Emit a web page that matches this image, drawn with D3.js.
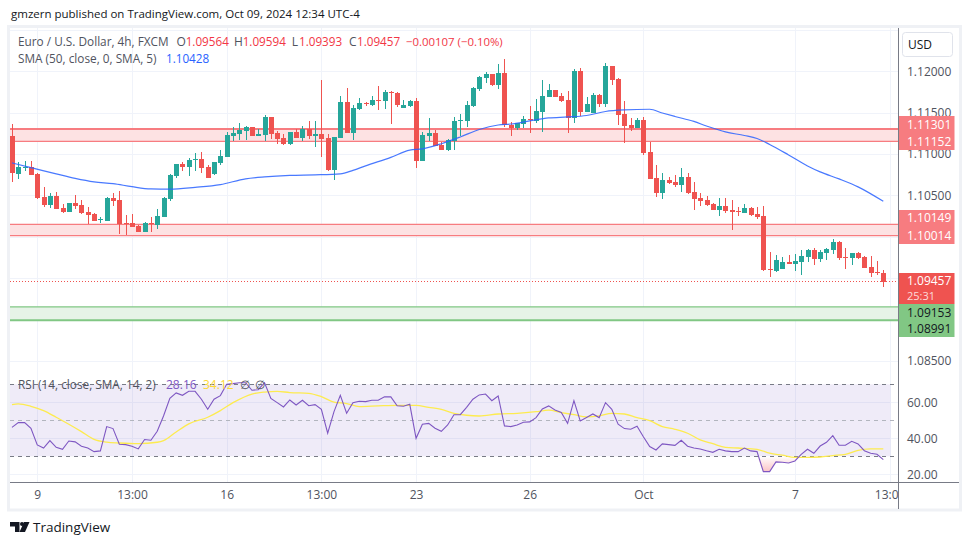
<!DOCTYPE html>
<html>
<head>
<meta charset="utf-8">
<script src="https://cdn.jsdelivr.net/npm/d3@7"></script>
<style>
  html, body { margin: 0; padding: 0; background: #fff; }
  svg { display: block; }
  text { font-family: "Open Sans", "Noto Sans", sans-serif; font-size: 12px; }
</style>
</head>
<body>
<svg width="970" height="545"></svg>
<script>
// candles, 4h EURUSD
const open = [
  1.11218,1.10760,1.10832,1.10844,1.10760,1.10482,1.10385,1.10494,1.10349,1.10301,
  1.10409,1.10385,1.10301,1.10277,1.10198,1.10192,1.10470,1.10446,1.10168,1.10168,
  1.10132,1.10059,1.10168,1.10144,1.10240,1.10458,1.10736,1.10881,1.10844,1.10929,
  1.10941,1.10844,1.10760,1.10893,1.10965,1.11218,1.11243,1.11279,1.11327,1.11218,
  1.11231,1.11448,1.11255,1.11194,1.11122,1.11267,1.11194,1.11303,1.11218,1.11243,
  1.11194,1.10808,1.11194,1.11629,1.11255,1.11545,1.11617,1.11593,1.11653,1.11641,
  1.11750,1.11738,1.11557,1.11581,1.11641,1.10917,1.11218,1.11255,1.11110,1.11049,
  1.11158,1.11400,1.11400,1.11581,1.11786,1.11919,1.11967,1.11834,1.11979,1.11352,
  1.11315,1.11364,1.11424,1.11400,1.11508,1.11690,1.11774,1.11702,1.11653,1.11436,
  1.12004,1.11508,1.11496,1.11714,1.11605,1.12064,1.11907,1.11484,1.11352,1.11315,
  1.11412,1.11025,1.10711,1.10530,1.10687,1.10663,1.10627,1.10723,1.10542,1.10470,
  1.10446,1.10397,1.10325,1.10373,1.10325,1.10313,1.10289,1.10349,1.10277,1.10252,
  1.09612,1.09588,1.09612,1.09697,1.09673,1.09697,1.09757,1.09842,1.09733,1.09805,
  1.09842,1.09939,1.09757,1.09745,1.09805,1.09757,1.09636,1.09576,1.09564
];
const close = [
  1.10772,1.10844,1.10844,1.10748,1.10470,1.10385,1.10494,1.10337,1.10301,1.10409,
  1.10373,1.10289,1.10265,1.10192,1.10210,1.10470,1.10434,1.10156,1.10156,1.10119,
  1.10059,1.10168,1.10156,1.10252,1.10470,1.10748,1.10881,1.10844,1.10929,1.10941,
  1.10832,1.10711,1.10905,1.10977,1.11231,1.11255,1.11291,1.11327,1.11218,1.11243,
  1.11448,1.11243,1.11182,1.11122,1.11267,1.11194,1.11303,1.11218,1.11243,1.11182,
  1.10808,1.11207,1.11629,1.11255,1.11557,1.11617,1.11605,1.11653,1.11641,1.11750,
  1.11738,1.11593,1.11593,1.11641,1.10917,1.11231,1.11255,1.11098,1.11049,1.11170,
  1.11400,1.11412,1.11593,1.11798,1.11931,1.11967,1.11834,1.11979,1.11352,1.11315,
  1.11376,1.11424,1.11412,1.11520,1.11702,1.11774,1.11690,1.11641,1.11436,1.12004,
  1.11508,1.11605,1.11714,1.11605,1.12064,1.11895,1.11472,1.11339,1.11315,1.11412,
  1.11013,1.10699,1.10530,1.10687,1.10651,1.10627,1.10723,1.10530,1.10458,1.10434,
  1.10385,1.10325,1.10373,1.10313,1.10301,1.10301,1.10349,1.10265,1.10240,1.09600,
  1.09600,1.09721,1.09697,1.09673,1.09709,1.09769,1.09842,1.09733,1.09818,1.09854,
  1.09939,1.09745,1.09745,1.09805,1.09745,1.09624,1.09564,1.09564,1.09457
];
const high = [
  1.11364,1.10905,1.10917,1.10917,1.10772,1.10603,1.10530,1.10542,1.10397,1.10409,
  1.10506,1.10446,1.10361,1.10289,1.10240,1.10482,1.10530,1.10554,1.10265,1.10277,
  1.10144,1.10180,1.10240,1.10337,1.10482,1.10760,1.10881,1.10905,1.10953,1.11013,
  1.11025,1.10868,1.10905,1.11049,1.11267,1.11327,1.11376,1.11339,1.11327,1.11303,
  1.11472,1.11448,1.11279,1.11243,1.11267,1.11303,1.11339,1.11400,1.11400,1.11895,
  1.11243,1.11207,1.11702,1.11798,1.11593,1.11677,1.11629,1.11702,1.11822,1.11774,
  1.11762,1.11750,1.11653,1.11653,1.11677,1.11267,1.11436,1.11291,1.11146,1.11182,
  1.11448,1.11484,1.11641,1.11810,1.11943,1.11991,1.11967,1.12088,1.12148,1.11388,
  1.11376,1.11460,1.11581,1.11665,1.11895,1.11846,1.11774,1.11738,1.11762,1.12028,
  1.12040,1.11690,1.11738,1.11726,1.12100,1.12064,1.11919,1.11641,1.11436,1.11436,
  1.11448,1.11146,1.10868,1.10772,1.10723,1.10748,1.10832,1.10772,1.10663,1.10530,
  1.10494,1.10409,1.10470,1.10470,1.10446,1.10361,1.10397,1.10361,1.10361,1.10373,
  1.09818,1.09781,1.09757,1.09781,1.09793,1.09842,1.09854,1.09866,1.09842,1.09866,
  1.09975,1.09950,1.09866,1.09805,1.09818,1.09769,1.09769,1.09709,1.09594
];
const low = [
  1.10663,1.10699,1.10796,1.10748,1.10458,1.10361,1.10349,1.10337,1.10289,1.10301,
  1.10337,1.10277,1.10156,1.10192,1.10168,1.10192,1.10373,1.10035,1.10023,1.10119,
  1.10059,1.10059,1.10059,1.10096,1.10240,1.10434,1.10711,1.10796,1.10736,1.10796,
  1.10772,1.10711,1.10748,1.10868,1.10965,1.11158,1.11170,1.11170,1.11218,1.11218,
  1.11158,1.11182,1.11122,1.11110,1.11110,1.11194,1.11158,1.11182,1.11086,1.10965,
  1.10796,1.10687,1.11194,1.11255,1.11170,1.11533,1.11581,1.11581,1.11533,1.11545,
  1.11364,1.11569,1.11557,1.11569,1.10832,1.10917,1.11158,1.11098,1.11049,1.11037,
  1.11049,1.11218,1.11327,1.11569,1.11762,1.11859,1.11822,1.11786,1.11327,1.11218,
  1.11291,1.11315,1.11255,1.11376,1.11267,1.11690,1.11690,1.11629,1.11255,1.11376,
  1.11460,1.11508,1.11496,1.11569,1.11569,1.11834,1.11352,1.11134,1.11279,1.11315,
  1.10989,1.10699,1.10482,1.10458,1.10639,1.10603,1.10542,1.10518,1.10325,1.10373,
  1.10373,1.10325,1.10252,1.10289,1.10083,1.10252,1.10289,1.10252,1.10216,1.09588,
  1.09516,1.09576,1.09612,1.09673,1.09588,1.09540,1.09697,1.09661,1.09697,1.09721,
  1.09793,1.09721,1.09612,1.09661,1.09733,1.09624,1.09516,1.09540,1.09393
];

// SMA 50, sampled along the curve
const smaIndex = [0,3,7,10,13,16,19,22,25,29,33,37,40,44,48,52,54,56,60,63,65,68,71,74,77,79,82,85,88,91,94,97,101,103,105,108,110,113,116,118,120,123,126,128,131,134,138];
const smaValues = [1.10892,1.10836,1.10760,1.10705,1.10663,1.10642,1.10605,1.10578,1.10575,1.10597,1.10630,1.10700,1.10724,1.10742,1.10748,1.10760,1.10802,1.10857,1.10959,1.11046,1.11062,1.11124,1.11206,1.11297,1.11351,1.11363,1.11400,1.11436,1.11448,1.11466,1.11514,1.11533,1.11541,1.11496,1.11454,1.11394,1.11339,1.11267,1.11224,1.11188,1.11116,1.10989,1.10856,1.10784,1.10699,1.10603,1.10428];

const rsi = [
  46.1,48.7,48.7,45.6,36.3,34.6,38.7,35.0,33.9,38.5,
  38.0,35.6,34.6,32.6,33.0,46.5,45.4,36.7,36.5,35.6,
  34.1,39.3,38.9,43.9,52.4,62.2,65.2,63.9,66.1,66.1,
  61.7,56.1,61.7,63.7,70.0,70.4,70.9,70.9,66.7,67.0,
  70.9,62.2,59.8,57.4,61.3,58.5,61.1,58.1,58.7,56.1,
  42.8,54.8,63.9,53.9,59.8,60.6,60.4,61.1,61.1,63.1,
  63.0,58.1,57.8,58.9,40.0,47.8,48.3,45.6,43.9,47.4,
  53.1,53.1,57.2,61.7,64.1,64.6,60.9,63.5,46.9,46.5,
  47.4,48.9,49.1,51.5,56.3,58.0,55.7,54.3,48.3,60.9,
  49.6,51.5,53.5,51.5,59.8,56.1,47.8,45.4,45.0,46.7,
  40.9,35.4,33.5,36.9,36.5,36.1,38.9,35.6,34.6,34.1,
  33.1,32.2,33.9,33.0,32.6,32.6,34.6,33.0,32.6,21.5,
  21.5,26.9,26.7,26.3,27.4,31.1,33.9,31.7,35.7,37.8,
  41.5,36.1,36.1,38.3,36.9,33.1,31.7,31.1,28.16
];
const rsiMaIndex = [0,1,3,5,7,9,11,13,15,17,20,23,24,26,28,31,33,35,38,40,42,44,47,49,51,53,55,58,61,64,66,68,70,72,74,77,80,83,85,87,89,91,93,95,97,99,101,103,105,107,109,111,113,115,118,120,122,124,126,128,130,132,134,136,138];
const rsiMaValues = [58.7,59.1,57.8,55.4,51.7,47.8,43.7,39.4,37.9,37.4,37.0,37.8,38.7,43.5,48.0,51.7,55.4,59.8,64.6,65.7,66.1,65.4,65.0,63.1,60.1,59.3,57.6,58.0,58.3,58.3,57.2,56.1,53.9,52.8,52.4,53.5,53.9,54.8,55.6,54.3,53.1,51.9,52.4,53.9,53.5,51.5,49.8,46.5,45.0,42.8,39.1,37.0,35.0,34.6,33.9,31.7,30.6,29.4,29.4,29.6,30.4,31.1,33.3,34.1,34.12];

// ticks
const priceTicks = [1.125,1.12,1.115,1.11,1.105,1.10,1.095,1.09,1.085];
const priceLabels = [1.12,1.115,1.11,1.105,1.085];
const rsiTicks = [60,40,20];
const timeTicks = [4,19,34,49,64,82,100,124,139];
const timeLabels = ["9","13:00","16","13:00","23","26","Oct","7","13:00"];

// zones drawn on the chart: [top, bottom]
const redZones = [[1.11301,1.11152],[1.10149,1.10014]];
const greenZone = [1.09153,1.08991];
const lastPrice = 1.09457;

const up = "#26a69a", down = "#ef5350", grid = "#f0f3fa", axisCol = "#787b86", textCol = "#50535e";
const left = 10, right = 898, plotTop = 28, paneBottom = 482.5, bottom = 509;

const svg = d3.select("svg");
const x = d3.scaleLinear().domain([0,138]).range([12,883.3]);
const y = d3.scaleLinear().domain([1.12,1.085]).range([71.3,360.8]);
const ry = d3.scaleLinear().domain([70,30]).range([384.3,456.3]);

// frame
svg.append("rect").attr("x",8.5).attr("y",26.5).attr("width",952).attr("height",483.5)
  .attr("fill","#fff").attr("stroke","#eff1f5").attr("stroke-width",3);

svg.append("clipPath").attr("id","plot").append("rect")
  .attr("x",left).attr("y",plotTop).attr("width",right-left).attr("height",paneBottom-plotTop);
svg.append("clipPath").attr("id","timeClip").append("rect")
  .attr("x",left).attr("y",paneBottom).attr("width",right-left).attr("height",bottom-paneBottom);

const plot = svg.append("g").attr("clip-path","url(#plot)");

// grid
plot.selectAll("line.v").data(timeTicks).join("line").attr("class","v")
  .attr("x1",d=>Math.round(x(d))+.5).attr("x2",d=>Math.round(x(d))+.5)
  .attr("y1",plotTop).attr("y2",paneBottom).attr("stroke",grid);
plot.selectAll("line.h").data(priceTicks).join("line").attr("class","h")
  .attr("x1",left).attr("x2",right)
  .attr("y1",d=>Math.round(y(d))+.5).attr("y2",d=>Math.round(y(d))+.5).attr("stroke",grid);
plot.selectAll("line.r").data(rsiTicks).join("line").attr("class","r")
  .attr("x1",left).attr("x2",right)
  .attr("y1",d=>Math.round(ry(d))+.5).attr("y2",d=>Math.round(ry(d))+.5).attr("stroke",grid);

// zones
redZones.forEach(z => {
  plot.append("rect").attr("x",left).attr("width",right-left)
    .attr("y",y(z[0])).attr("height",y(z[1])-y(z[0])).attr("fill","#fde2e3");
  plot.append("line").attr("x1",left).attr("x2",right).attr("y1",y(z[0])).attr("y2",y(z[0]))
    .attr("stroke","#f77c80").attr("stroke-width",z[0]>1.11?2:1.2);
  plot.append("line").attr("x1",left).attr("x2",right).attr("y1",y(z[1])).attr("y2",y(z[1]))
    .attr("stroke","#f77c80").attr("stroke-width",1.2);
});
plot.append("rect").attr("x",left).attr("width",right-left)
  .attr("y",y(greenZone[0])).attr("height",y(greenZone[1])-y(greenZone[0])).attr("fill","#e6f3e7");
plot.append("line").attr("x1",left).attr("x2",right).attr("y1",y(greenZone[0])).attr("y2",y(greenZone[0]))
  .attr("stroke","#81c784").attr("stroke-width",1.2);
plot.append("line").attr("x1",left).attr("x2",right).attr("y1",y(greenZone[1])).attr("y2",y(greenZone[1]))
  .attr("stroke","#81c784").attr("stroke-width",2);

// last price dotted line
plot.append("line").attr("x1",left).attr("x2",right).attr("y1",Math.round(y(lastPrice))-.5).attr("y2",Math.round(y(lastPrice))-.5)
  .attr("stroke",down).attr("stroke-dasharray","1 2");

// candles
const idx = d3.range(open.length);
const candles = plot.append("g").attr("shape-rendering","crispEdges");
candles.selectAll("line").data(idx).join("line")
  .attr("x1",i=>Math.round(x(i))+.5).attr("x2",i=>Math.round(x(i))+.5)
  .attr("y1",i=>y(high[i])).attr("y2",i=>y(low[i]))
  .attr("stroke",i=>close[i]>=open[i]?up:down);
candles.selectAll("rect").data(idx).join("rect")
  .attr("x",i=>Math.round(x(i))-2).attr("width",5)
  .attr("y",i=>y(Math.max(open[i],close[i])))
  .attr("height",i=>Math.max(1,Math.abs(y(open[i])-y(close[i]))))
  .attr("fill",i=>close[i]>=open[i]?up:down);

// SMA
plot.append("path").datum(smaIndex)
  .attr("d",d3.line().x(d=>x(d)).y((d,i)=>y(smaValues[i])).curve(d3.curveMonotoneX))
  .attr("fill","none").attr("stroke","#2962ff").attr("stroke-width",1.2).attr("stroke-opacity",.85);

// RSI pane
plot.append("rect").attr("x",left).attr("width",890.5-left).attr("y",ry(70)).attr("height",ry(30)-ry(70))
  .attr("fill","#7e57c2").attr("fill-opacity",.12);

const grad = svg.append("linearGradient").attr("id","oversold").attr("x1",0).attr("x2",0).attr("y1",0).attr("y2",1);
grad.append("stop").attr("offset",0).attr("stop-color","#fff");
grad.append("stop").attr("offset",1).attr("stop-color","#fbc4c6");
plot.append("path").datum(idx)
  .attr("d",d3.area().x(i=>x(i)).y0(ry(30)).y1(i=>ry(Math.min(30,rsi[i]))))
  .attr("fill","url(#oversold)");

plot.selectAll("line.lvl").data([70,50,30]).join("line").attr("class","lvl")
  .attr("x1",left).attr("x2",right)
  .attr("y1",d=>Math.round(ry(d))+.5).attr("y2",d=>Math.round(ry(d))+.5)
  .attr("stroke",d=>d===50?"#b2b5be":axisCol).attr("stroke-dasharray","4 4");

plot.append("path").datum(rsiMaIndex)
  .attr("d",d3.line().x(d=>x(d)).y((d,i)=>ry(rsiMaValues[i])).curve(d3.curveMonotoneX))
  .attr("fill","none").attr("stroke","#fdeb4f").attr("stroke-width",1.3);
plot.append("path").datum(idx)
  .attr("d",d3.line().x(i=>x(i)).y(i=>ry(rsi[i])))
  .attr("fill","none").attr("stroke","#7e57c2").attr("stroke-width",1.1);

// price and rsi axes
const priceAxis = d3.axisRight(y).tickValues(priceLabels).tickSize(0).tickPadding(0).tickFormat(d3.format(".5f"));
const gp = svg.append("g").attr("transform",`translate(907,0)`).call(priceAxis);
const rsiAxis = d3.axisRight(ry).tickValues(rsiTicks.concat()).tickSize(0).tickPadding(0).tickFormat(d3.format(".2f"));
const gr = svg.append("g").attr("transform",`translate(907,0)`).call(rsiAxis);
const timeAxis = d3.axisBottom(x).tickValues(timeTicks).tickSize(0).tickPadding(8)
  .tickFormat((d,i)=>timeLabels[i]);
const gt = svg.append("g").attr("clip-path","url(#timeClip)").append("g")
  .attr("transform",`translate(0,${paneBottom})`).call(timeAxis);
[gp,gr,gt].forEach(g => {
  g.select(".domain").remove();
  g.selectAll("text").attr("fill",textCol).style("font-size","12px").style("font-family",'"Open Sans", sans-serif');
});

// axis lines
svg.append("line").attr("x1",left).attr("x2",959).attr("y1",482.5).attr("y2",482.5).attr("stroke",axisCol);
svg.append("line").attr("x1",898.5).attr("x2",898.5).attr("y1",plotTop).attr("y2",bottom).attr("stroke",axisCol);

// price labels on the axis
const tag = (y0,h,fill) => svg.append("rect").attr("x",899).attr("y",y0).attr("width",55.5).attr("height",h).attr("fill",fill);
const tagText = (t,cy,fill,op) => svg.append("text").attr("x",907).attr("y",cy).attr("dy",".35em").attr("fill",fill).attr("fill-opacity",op||1).text(t);
tag(116,34,"#f77c80"); tagText(d3.format(".5f")(redZones[0][0]),124.5,"#fff"); tagText(d3.format(".5f")(redZones[0][1]),142,"#fff");
tag(210,34,"#f77c80"); tagText(d3.format(".5f")(redZones[1][0]),218,"#fff"); tagText(d3.format(".5f")(redZones[1][1]),235.5,"#fff");
tag(273,31,down); tagText(d3.format(".5f")(lastPrice),281,"#fff"); tagText("25:31",296,"#fff",.8).style("font-size","11px");
tag(304,33,"#81c784"); tagText(d3.format(".5f")(greenZone[0]),312.5,"#131722"); tagText(d3.format(".5f")(greenZone[1]),329,"#131722");

// currency button
svg.append("rect").attr("x",902.5).attr("y",32.5).attr("width",50).attr("height",24).attr("rx",3)
  .attr("fill","#fff").attr("stroke","#e0e3eb");
svg.append("text").attr("x",920).attr("y",45).attr("dy",".35em").attr("text-anchor","middle").attr("fill","#131722").text("USD");

// header and legends
const label = (t,lx,ly,fill,size) => svg.append("text").attr("x",lx).attr("y",ly).attr("fill",fill).style("font-size",(size||12)+"px").text(t);
label("gmzern published on TradingView.com, Oct 09, 2024 12:34 UTC-4",11,18,"#131722",11.5);
const red = "#f23645";
label("Euro / U.S. Dollar, 4h, FXCM",18,46,textCol,11.8);
label("O",176.5,46,textCol); label("1.09564",185.7,46,red,11.7);
label("H",234,46,textCol); label("1.09594",242.7,46,red,11.7);
label("L",291.7,46,textCol); label("1.09393",299,46,red,11.7);
label("C",349,46,textCol); label("1.09457",357,46,red,11.7);
label("\u22120.00107 (\u22120.10%)",406,46,red,11.4);
label("SMA (50, close, 0, SMA, 5)",18,63,textCol,11.8);
label("1.10428",166,63,"#2962ff",11.7);
label("RSI (14, close, SMA, 14, 2)",18,389,textCol,11.8);
label("28.16",166,389,"#7e57c2");
label("34.12",203,389,"#fdd835");
label("\u2205",240,389,textCol);
label("\u2205",255,389,textCol);

// TradingView mark
const logo = svg.append("g").attr("fill","#131722");
logo.append("path").attr("d","M10 522H19.5V532H15V526.5H10Z");
logo.append("circle").attr("cx",22).attr("cy",524).attr("r",2);
logo.append("path").attr("d","M24 522H29.5L25 532H19.5Z");
svg.append("text").attr("x",33).attr("y",532).attr("fill","#131722").style("font-size","13.5px").text("TradingView");
</script>
</body>
</html>
